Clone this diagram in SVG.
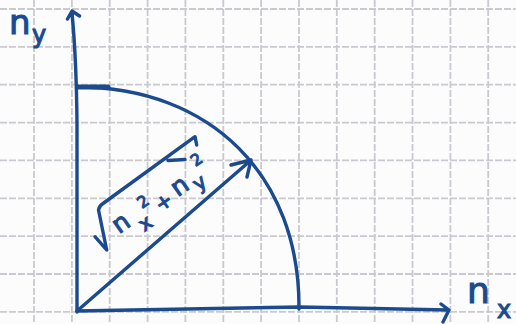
<svg xmlns="http://www.w3.org/2000/svg" width="516" height="324" viewBox="0 0 516 324">
<style>
.grid line{stroke:#c9c9cf;stroke-width:1.8;stroke-dasharray:7 2}
.ink{fill:none;stroke:#1b4a8e;stroke-width:3.4;stroke-linecap:round;stroke-linejoin:round}
.t{font-family:"DejaVu Sans",sans-serif;fill:#1b4a8e;stroke:#1b4a8e;stroke-width:1.1}
</style>
<rect width="516" height="324" fill="#fcfcfc"/>
<g class="grid" id="grid">
<line x1="34" y1="0" x2="34" y2="324"/><line x1="71.9" y1="0" x2="71.9" y2="324"/><line x1="109.7" y1="0" x2="109.7" y2="324"/><line x1="147.6" y1="0" x2="147.6" y2="324"/><line x1="185.4" y1="0" x2="185.4" y2="324"/><line x1="223.3" y1="0" x2="223.3" y2="324"/><line x1="261.1" y1="0" x2="261.1" y2="324"/><line x1="299" y1="0" x2="299" y2="324"/><line x1="336.8" y1="0" x2="336.8" y2="324"/><line x1="374.7" y1="0" x2="374.7" y2="324"/><line x1="412.5" y1="0" x2="412.5" y2="324"/><line x1="450.4" y1="0" x2="450.4" y2="324"/><line x1="488.2" y1="0" x2="488.2" y2="324"/>
<line x1="0" y1="9" x2="516" y2="9"/><line x1="0" y1="46.9" x2="516" y2="46.9"/><line x1="0" y1="84.7" x2="516" y2="84.7"/><line x1="0" y1="122.6" x2="516" y2="122.6"/><line x1="0" y1="160.4" x2="516" y2="160.4"/><line x1="0" y1="198.3" x2="516" y2="198.3"/><line x1="0" y1="236.1" x2="516" y2="236.1"/><line x1="0" y1="274" x2="516" y2="274"/><line x1="0" y1="311.8" x2="516" y2="311.8"/>
</g>
<g id="connectors">
<path id="y-axis" class="ink" d="M77 312 L77 125 Q76.5 60 72 13 M67.5 19 L72 11 L79.5 16"/>
<path id="x-axis" class="ink" d="M77 311 L300 307 L448 310 M441 304 L449 310 L443 322"/>
<path id="arc" class="ink" d="M77 87 C211 87 300 176 299 309"/>
<path class="ink" style="stroke-width:5" d="M78 87 L108 87"/>
<path id="vector" class="ink" d="M77 311 L250 161 M231 165 L251 160 L247 177"/>
</g>
<g id="label-ny">
<text class="t" x="9" y="34" font-size="34">n</text>
<text class="t" x="32" y="43" font-size="24">y</text>
</g>
<g id="label-nx">
<text class="t" x="467" y="303" font-size="36">n</text>
<text class="t" x="497" y="318" font-size="24">x</text>
</g>
<g id="label-sqrt">
<path class="ink" d="M95 236.7 L106.7 250 L98.5 210 Q99 206 103 203.5 L195 136.7 L196.7 145 M168 160.5 L185 159.5"/>
<g transform="translate(113 242) rotate(-35)">
<text class="t" x="17.3" y="-3" font-size="25" text-anchor="middle">n</text>
<text class="t" x="37.4" y="9.7" font-size="20" text-anchor="middle">x</text>
<text class="t" x="47.8" y="-10.5" font-size="16" text-anchor="middle">2</text>
<text class="t" x="64.6" y="3" font-size="20" text-anchor="middle">+</text>
<text class="t" x="86.5" y="0.5" font-size="25" text-anchor="middle">n</text>
<text class="t" x="104.9" y="7.7" font-size="20" text-anchor="middle">y</text>
<text class="t" x="115.8" y="-14.2" font-size="16" text-anchor="middle">2</text>
</g>
</g>
</svg>
